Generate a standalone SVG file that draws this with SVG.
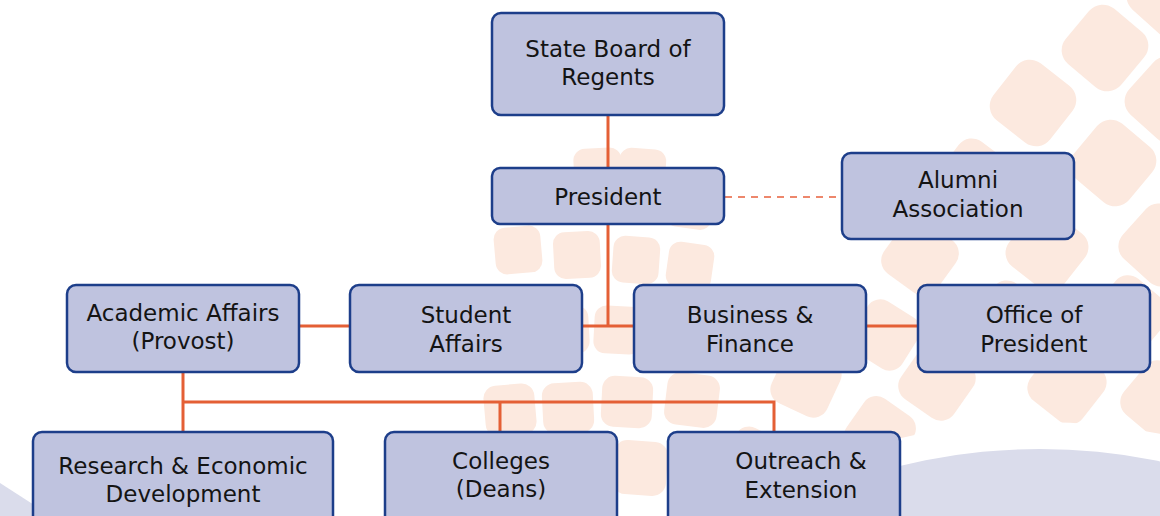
<svg xmlns="http://www.w3.org/2000/svg" xmlns:xlink="http://www.w3.org/1999/xlink" width="1160" height="516" viewBox="0 0 1160 516">
<style>
.tile{fill:#FCE9DF}
.box{fill:#BFC3DF;stroke:#1D3E8A;stroke-width:2.5}
.lbl{font-family:"DejaVu Sans",sans-serif;font-size:23px;fill:#141414;text-anchor:middle}
.ln{stroke:#E45F35;stroke-width:3;fill:none}
.dash{stroke:#E8603C;stroke-width:1.5;stroke-dasharray:7 6;fill:none}
</style>
<defs>
<rect id="t" class="tile" x="-30" y="-30" width="60" height="60" rx="15"/>
</defs>
<rect width="1160" height="516" fill="#FFFFFF"/>
<g id="background">
<use href="#t" transform="translate(1105,48) rotate(40) scale(1.2)"/>
<use href="#t" transform="translate(1170,-5) rotate(42) scale(1.2)"/>
<use href="#t" transform="translate(1033,103) rotate(38) scale(1.2)"/>
<use href="#t" transform="translate(1168,100) rotate(42) scale(1.2)"/>
<use href="#t" transform="translate(1113,163) rotate(40) scale(1.2)"/>
<use href="#t" transform="translate(975,178) rotate(37) scale(1.1)"/>
<use href="#t" transform="translate(920,257) rotate(36) scale(1.08)"/>
<use href="#t" transform="translate(1047,250) rotate(38) scale(1.15)"/>
<use href="#t" transform="translate(1160,245) rotate(42) scale(1.15)"/>
<use href="#t" transform="translate(885,335) rotate(32) scale(1)"/>
<use href="#t" transform="translate(1010,320) rotate(37) scale(1.1)"/>
<use href="#t" transform="translate(1130,315) rotate(40) scale(1.1)"/>
<use href="#t" transform="translate(937,382) rotate(35) scale(1.08)"/>
<use href="#t" transform="translate(1067,385) rotate(38) scale(1.1)"/>
<use href="#t" transform="translate(1160,400) rotate(40) scale(1.1)"/>
<use href="#t" transform="translate(806,382) rotate(25) scale(1.02)"/>
<use href="#t" transform="translate(880,432) rotate(35) scale(1)"/>
<use href="#t" transform="translate(755,460) rotate(28) scale(0.95)"/>
<use href="#t" transform="translate(598,172) rotate(-3) scale(0.8)"/>
<use href="#t" transform="translate(642,172) rotate(4) scale(0.78)"/>
<use href="#t" transform="translate(690,205) rotate(8) scale(0.78)"/>
<use href="#t" transform="translate(518,250) rotate(-5) scale(0.78)"/>
<use href="#t" transform="translate(577,255) rotate(-3) scale(0.78)"/>
<use href="#t" transform="translate(636,260) rotate(4) scale(0.78)"/>
<use href="#t" transform="translate(690,266) rotate(8) scale(0.76)"/>
<use href="#t" transform="translate(510,330) rotate(-5) scale(0.8)"/>
<use href="#t" transform="translate(565,330) rotate(-3) scale(0.8)"/>
<use href="#t" transform="translate(618,330) rotate(3) scale(0.8)"/>
<use href="#t" transform="translate(745,325) rotate(15) scale(0.85)"/>
<use href="#t" transform="translate(510,410) rotate(-5) scale(0.85)"/>
<use href="#t" transform="translate(568,408) rotate(-3) scale(0.85)"/>
<use href="#t" transform="translate(627,402) rotate(3) scale(0.85)"/>
<use href="#t" transform="translate(692,400) rotate(7) scale(0.88)"/>
<use href="#t" transform="translate(520,472) rotate(-4) scale(0.9)"/>
<use href="#t" transform="translate(640,468) rotate(4) scale(0.9)"/>
<circle cx="1040" cy="1036" r="614" fill="#FFFFFF"/>
<circle cx="1040" cy="1036" r="587" fill="#DADCEB"/>
<polygon points="0,483 45,512 45,516 0,516" fill="#DADCEB"/>
</g>
<g id="connectors">
<line class="ln" x1="608" y1="116" x2="608" y2="168"/>
<polyline class="ln" points="608,224 608,326"/>
<line class="ln" x1="582" y1="326" x2="634" y2="326"/>
<line class="ln" x1="299" y1="326" x2="350" y2="326"/>
<line class="ln" x1="866" y1="326" x2="918" y2="326"/>
<line class="dash" x1="725" y1="197" x2="842" y2="197"/>
<line class="ln" x1="183" y1="372" x2="183" y2="432"/>
<polyline class="ln" points="183,402 774,402 774,432"/>
<line class="ln" x1="500" y1="402" x2="500" y2="432"/>
</g>
<g id="regents">
<rect class="box" x="492" y="13" width="232" height="102" rx="9"/>
<text class="lbl" x="608" y="57">State Board of</text>
<text class="lbl" x="608" y="85">Regents</text>
</g>
<g id="president">
<rect class="box" x="492" y="168" width="232" height="56" rx="8"/>
<text class="lbl" x="608" y="205">President</text>
</g>
<g id="alumni">
<rect class="box" x="842" y="153" width="232" height="86" rx="9"/>
<text class="lbl" x="958" y="188">Alumni</text>
<text class="lbl" x="958" y="217">Association</text>
</g>
<g id="academic">
<rect class="box" x="67" y="285" width="232" height="87" rx="9"/>
<text class="lbl" x="183" y="321">Academic Affairs</text>
<text class="lbl" x="183" y="349">(Provost)</text>
</g>
<g id="student">
<rect class="box" x="350" y="285" width="232" height="87" rx="9"/>
<text class="lbl" x="466" y="323">Student</text>
<text class="lbl" x="466" y="352">Affairs</text>
</g>
<g id="business">
<rect class="box" x="634" y="285" width="232" height="87" rx="9"/>
<text class="lbl" x="750" y="323">Business &amp;</text>
<text class="lbl" x="750" y="352">Finance</text>
</g>
<g id="office">
<rect class="box" x="918" y="285" width="232" height="87" rx="9"/>
<text class="lbl" x="1034" y="323">Office of</text>
<text class="lbl" x="1034" y="352">President</text>
</g>
<g id="research">
<rect class="box" x="33" y="432" width="300" height="100" rx="9"/>
<text class="lbl" x="183" y="474">Research &amp; Economic</text>
<text class="lbl" x="183" y="502">Development</text>
</g>
<g id="colleges">
<rect class="box" x="385" y="432" width="232" height="100" rx="9"/>
<text class="lbl" x="501" y="469">Colleges</text>
<text class="lbl" x="501" y="497">(Deans)</text>
</g>
<g id="outreach">
<rect class="box" x="668" y="432" width="232" height="100" rx="9"/>
<text class="lbl" x="801" y="469">Outreach &amp;</text>
<text class="lbl" x="801" y="498">Extension</text>
</g>
</svg>
